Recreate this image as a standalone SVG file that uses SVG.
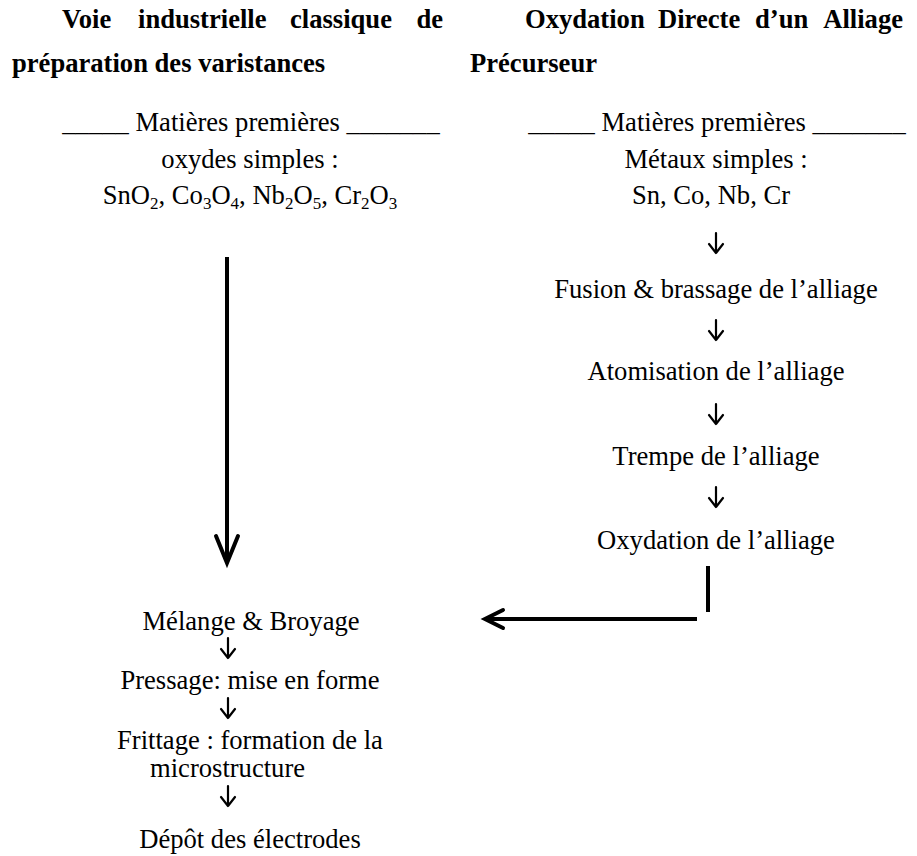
<svg xmlns="http://www.w3.org/2000/svg" width="917" height="856" viewBox="0 0 917 856">
<style>
text{font-family:"Liberation Serif","Times New Roman",serif;font-size:26.6px;fill:#000}
.b{font-weight:bold}
.c{text-anchor:middle}
.e{text-anchor:end}
.sub{font-size:17px}
.ln{stroke:#000;stroke-width:4;fill:none}
.hd{stroke:#000;stroke-width:4;fill:none;stroke-linecap:round}
.sa{stroke:#000;stroke-width:2.2;fill:none;stroke-linecap:round;stroke-linejoin:round}
</style>
<rect width="917" height="856" fill="#fff"/>
<g id="title-left">
<text class="b" x="62" y="28">Voie</text>
<text class="b" x="138" y="28">industrielle</text>
<text class="b" x="290" y="28">classique</text>
<text class="b e" x="443" y="28">de</text>
<text class="b" x="12" y="72">préparation des varistances</text>
</g>
<g id="title-right">
<text class="b" x="525" y="28">Oxydation</text>
<text class="b" x="658" y="28">Directe</text>
<text class="b" x="755" y="28">d’un</text>
<text class="b e" x="903" y="28">Alliage</text>
<text class="b" x="470" y="72">Précurseur</text>
</g>
<g id="raw-left">
<text class="c" x="251" y="131">_____ Matières premières _______</text>
<text class="c" x="250" y="168">oxydes simples :</text>
<text class="c" x="250" y="204">SnO<tspan class="sub" dy="5">2</tspan><tspan dy="-5">, Co</tspan><tspan class="sub" dy="5">3</tspan><tspan dy="-5">O</tspan><tspan class="sub" dy="5">4</tspan><tspan dy="-5">, Nb</tspan><tspan class="sub" dy="5">2</tspan><tspan dy="-5">O</tspan><tspan class="sub" dy="5">5</tspan><tspan dy="-5">, Cr</tspan><tspan class="sub" dy="5">2</tspan><tspan dy="-5">O</tspan><tspan class="sub" dy="5">3</tspan></text>
</g>
<g id="raw-right">
<text class="c" x="717" y="131">_____ Matières premières _______</text>
<text class="c" x="716" y="168">Métaux simples :</text>
<text class="c" x="711" y="204">Sn, Co, Nb, Cr</text>
</g>
<g id="fusion"><text class="c" x="716" y="298">Fusion &amp; brassage de l’alliage</text></g>
<g id="atomisation"><text class="c" x="716" y="380">Atomisation de l’alliage</text></g>
<g id="trempe"><text class="c" x="716" y="465">Trempe de l’alliage</text></g>
<g id="oxydation"><text class="c" x="716" y="549">Oxydation de l’alliage</text></g>
<g id="melange"><text class="c" x="251" y="630">Mélange &amp; Broyage</text></g>
<g id="pressage"><text class="c" x="250" y="689">Pressage: mise en forme</text></g>
<g id="frittage"><text class="c" x="250" y="749">Frittage : formation de la</text><text x="150" y="777">microstructure</text></g>
<g id="depot"><text class="c" x="250" y="848">Dépôt des électrodes</text></g>
<g id="connectors">
<path class="sa" d="M716 233V253M709 244L716 253L723 244"/>
<path class="sa" d="M716 320V340M709 331L716 340L723 331"/>
<path class="sa" d="M716 404V424M709 415L716 424L723 415"/>
<path class="sa" d="M716 487V507M709 498L716 507L723 498"/>
<path class="sa" d="M228 638V658M221 649L228 658L235 649"/>
<path class="sa" d="M228 698V718M221 709L228 718L235 709"/>
<path class="sa" d="M228 786V806M221 797L228 806L235 797"/>
<line class="ln" x1="227" y1="257" x2="227" y2="563"/>
<polyline class="hd" points="216,536 227,563 238,536"/>
<line class="ln" x1="708" y1="566" x2="708" y2="612"/>
<line class="ln" x1="697" y1="619" x2="486" y2="619"/>
<polyline class="hd" points="503,610 485,619 503,628"/>
</g>
</svg>
